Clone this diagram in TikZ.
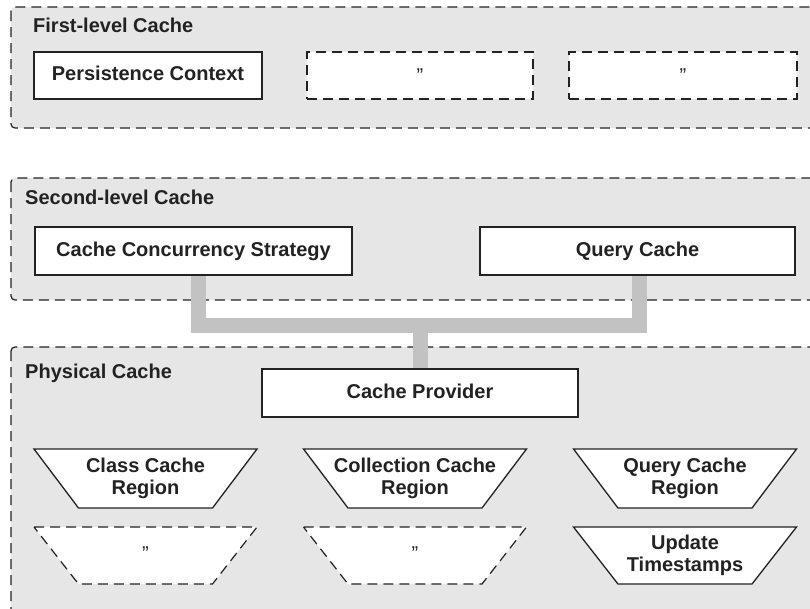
\documentclass[tikz,border=0pt]{standalone}
\usepackage{fontspec}
\setmainfont{Liberation Sans}
\usetikzlibrary{calc}
\definecolor{contfill}{HTML}{E6E6E6}
\definecolor{barc}{HTML}{C2C2C2}
\definecolor{ink}{HTML}{222222}
\newcommand\trapshape[3]{%
  \path[#3] ($(#1)+(-111.5,-#2/2)$) -- ++(223,0) -- ++(-44.5,#2) -- ++(-134,0) -- cycle;}
\begin{document}
\begin{tikzpicture}[x=1pt,y=-1pt,
  container/.style={draw=ink, line width=1.2pt, dash pattern=on 10pt off 6pt, fill=contfill, rounded corners=4pt},
  title/.style={anchor=base west, font=\fontsize{20}{22}\selectfont\bfseries, text=ink, inner sep=0pt},
  boxtext/.style={font=\fontsize{20}{22}\selectfont\bfseries, text=ink, inner sep=0pt, text height=14.5pt, text depth=4pt},
  solidbox/.style={boxtext, draw=ink, line width=1.3pt, fill=white, minimum height=47pt},
  dashbox/.style={draw=ink, line width=1.2pt, dash pattern=on 10pt off 6pt, fill=white, minimum height=47pt, inner sep=0pt},
  quotetext/.style={font=\fontsize{20}{20}\selectfont, text=ink, inner sep=0pt},
  traptext/.style={font=\fontsize{20}{22}\selectfont\bfseries, text=ink, inner sep=0pt, align=center},
  trapsolid/.style={draw=ink, line width=1.3pt, fill=white, line join=miter},
  trapdash/.style={draw=ink, line width=1.2pt, dash pattern=on 10pt off 6pt, fill=white},
  bar/.style={draw=barc, line width=15pt, line cap=butt, line join=miter}
]
\useasboundingbox (0,0) rectangle (810,608);
\clip (0,0) rectangle (810,608);

% containers
\path[container] (11,7) rectangle (830,128);
\path[container] (11,178) rectangle (830,300);
\path[container] (11,347) rectangle (830,640);

% titles
\node[title] (t1) at (33,32) {First-level Cache};
\node[title] (t2) at (25,204) {Second-level Cache};
\node[title] (t3) at (25,378) {Physical Cache};

% first-level boxes
\node[solidbox, minimum width=228pt] (pc) at (148,75.5) {Persistence Context};
\node[dashbox, minimum width=226pt] (pc2) at (420,75.5) {};
\node[quotetext] (q2) at (420,75.5) {\symbol{34}};
\node[dashbox, minimum width=228pt] (pc3) at (683,75.5) {};
\node[quotetext] (q3) at (683,75.5) {\symbol{34}};

% second-level boxes
\node[solidbox, minimum width=317pt, minimum height=48pt] (ccs) at (193.5,251) {Cache Concurrency Strategy};
\node[solidbox, minimum width=315pt, minimum height=48pt] (qc) at (637.5,251) {Query Cache};

% physical
\node[solidbox, minimum width=316pt, minimum height=48pt] (cp) at (420,393) {Cache Provider};

% connector
\coordinate (jn) at (420,324.5);
\draw[bar] ([xshift=4.5pt]ccs.south) -- ++(0,49.5) -| ([xshift=2pt]qc.south);
\draw[bar] (jn) -- (cp.north);

% trapezoid centres
\coordinate (c1) at (145.5,478.5);
\coordinate (c2) at (415,478.5);
\coordinate (c3) at (685,478.5);
\coordinate (d1) at (145.5,555.5);
\coordinate (d2) at (415,555.5);
\coordinate (d3) at (685,555.5);

\trapshape{c1}{59}{trapsolid}
\trapshape{c2}{59}{trapsolid}
\trapshape{c3}{59}{trapsolid}
\trapshape{d1}{57}{trapdash}
\trapshape{d2}{57}{trapdash}
\trapshape{d3}{57}{trapsolid}

\node[traptext] (ccr) at (c1) {Class Cache\\Region};
\node[traptext] (colr) at (c2) {Collection Cache\\Region};
\node[traptext] (qcr) at (c3) {Query Cache\\Region};
\node[quotetext] (q4) at (145.5,554) {\symbol{34}};
\node[quotetext] (q5) at (415,554) {\symbol{34}};
\node[traptext] (ut) at (d3) {Update\\Timestamps};
\end{tikzpicture}
\end{document}
